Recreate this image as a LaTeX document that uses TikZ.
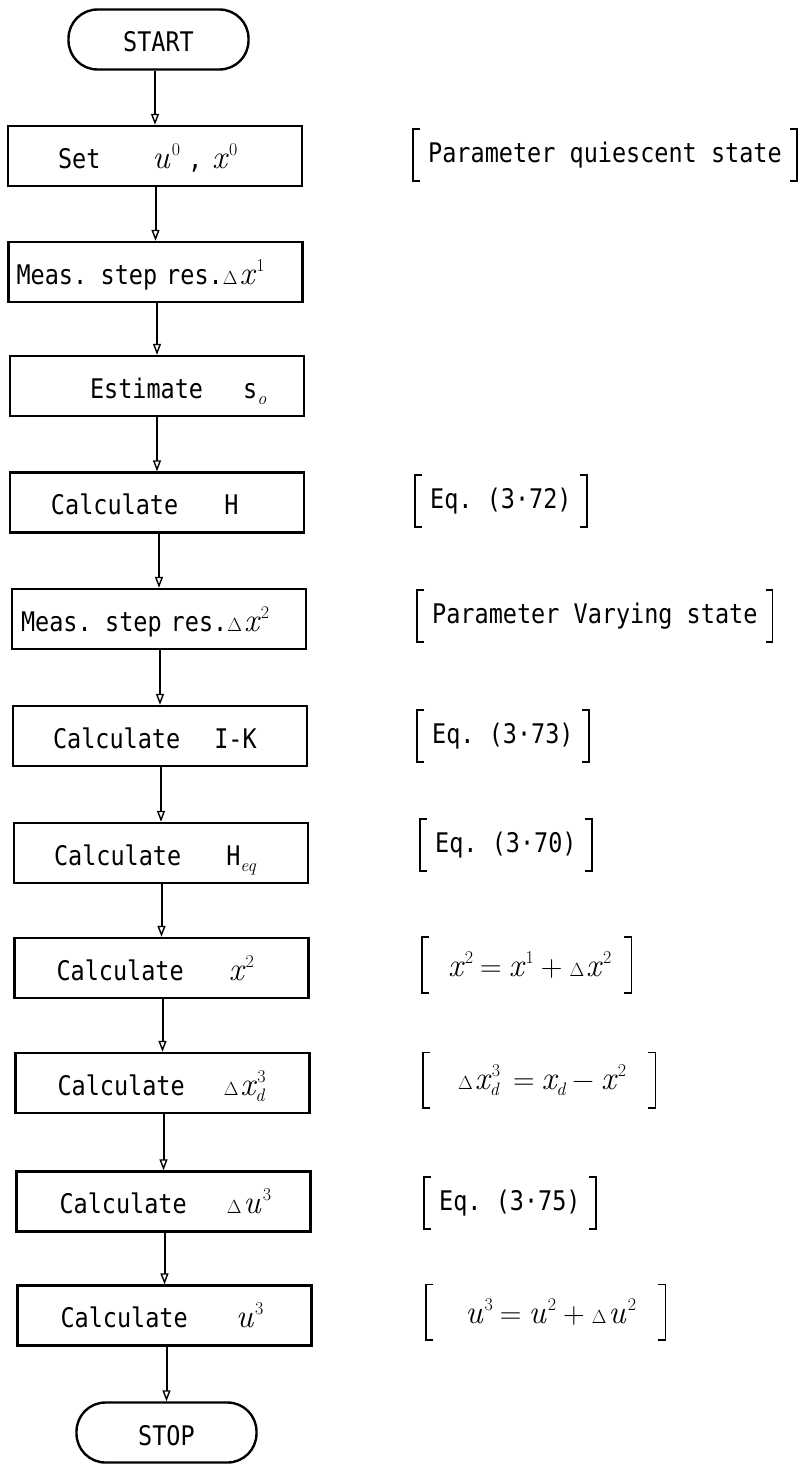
\documentclass[tikz,border=0pt]{standalone}
\usepackage{fontspec}
\setmonofont{DejaVu Sans Mono}[FakeStretch=0.87]
\usetikzlibrary{arrows.meta}

\newcommand\tfont{\fontsize{27}{30}\selectfont\ttfamily}
% variables, indices and operators set as text at fixed sizes
\newcommand\var[1]{{\rmfamily\itshape\fontsize{33}{36}\selectfont #1}}
\newcommand\hi[1]{\hspace{2pt}\raisebox{13pt}{\rmfamily\fontsize{18}{18}\selectfont #1}}
\newcommand\lo[1]{\raisebox{-6pt}{\rmfamily\itshape\fontsize{18}{18}\selectfont #1}}
\newcommand\hilo[2]{\makebox[0pt][l]{\lo{#1}}\hi{#2}}
\newcommand\dl{{\rmfamily\fontsize{19}{20}\selectfont Δ}\hspace{2pt}}
\newcommand\op[1]{\hspace{7pt}{\rmfamily\fontsize{30}{30}\selectfont #1}\hspace{7pt}}

\tikzset{
  stepbox/.style={draw, line width=2.4pt, rectangle, minimum height=60pt,
    text width=282pt, inner xsep=6pt, inner ysep=2pt, align=left,
    text height=27pt, text depth=3pt, font=\tfont},
  term/.style={draw, line width=2.4pt, rectangle, rounded corners=29pt,
    minimum width=180pt, minimum height=60pt, inner ysep=2pt,
    text height=27pt, text depth=2pt, font=\tfont},
  note/.style={anchor=west, inner xsep=15pt, minimum height=52pt, font=\tfont},
  brk/.style={line width=1.6pt},
  arr/.style={line width=2pt, -{Triangle[open,length=11pt,width=8pt,line width=1.4pt]}}
}

\begin{document}
\begin{tikzpicture}[x=1pt, y=-1pt]
\useasboundingbox (0,0) rectangle (809,1464);

% main chain of the flowchart
\node[term]    (start)  at (158.5,39.5) {START};
\node[stepbox] (set)    at (155,156)    {\hspace*{44pt}Set\hspace{52pt}\var{u}\hi{0}\hspace{8pt},\hspace{10pt}\var{x}\hi{0}};
\node[stepbox] (meas1)  at (155.5,272)  {\hspace*{2pt}Meas. step res.\dl\var{x}\hi{1}};
\node[stepbox] (est)    at (157,386)    {\hspace*{74pt}Estimate\hspace{40pt}s\lo{o}};
\node[stepbox] (calcH)  at (157,502.5)  {\hspace*{35pt}Calculate\hspace{46pt}H};
\node[stepbox] (meas2)  at (159,619)    {\hspace*{3pt}Meas. step res.\dl\var{x}\hi{2}};
\node[stepbox] (calcIK) at (160,736)    {\hspace*{34pt}Calculate\hspace{34pt}I-K};
\node[stepbox] (calcHq) at (161,853)    {\hspace*{34pt}Calculate\hspace{45pt}H\lo{eq}};
\node[stepbox] (calcx)  at (161.5,968)  {\hspace*{36pt}Calculate\hspace{45pt}\var{x}\hi{2}};
\node[stepbox] (calcdx) at (162.5,1083) {\hspace*{36pt}Calculate\hspace{39pt}\dl\var{x}\hilo{d}{3}};
\node[stepbox] (calcdu) at (163.5,1201.5){\hspace*{37pt}Calculate\hspace{40pt}\dl\var{u}\hi{3}};
\node[stepbox] (calcu)  at (164.5,1315.5){\hspace*{37pt}Calculate\hspace{48pt}\var{u}\hi{3}};
\node[term]    (stop)   at (166.5,1432.5){STOP};

% connectors
\foreach \a/\b in {start/set, set/meas1, meas1/est, est/calcH, calcH/meas2,
                   meas2/calcIK, calcIK/calcHq, calcHq/calcx, calcx/calcdx,
                   calcdx/calcdu, calcdu/calcu, calcu/stop}
  \draw[arr] (\b.north |- \a.south) -- (\b.north);

% bracketed notes
\node[note] (n1) at (413,155)  {Parameter quiescent state};
\node[note] (n2) at (415,501)  {Eq. (3·72)};
\node[note] (n3) at (417,616)  {Parameter Varying state};
\node[note] (n4) at (417,736)  {Eq. (3·73)};
\node[note] (n5) at (420,845)  {Eq. (3·70)};
\node[note, minimum width=209pt, minimum height=56pt] (n6) at (422,965)
  {\hspace*{6pt}\var{x}\hi{2}\op{=}\var{x}\hi{1}\op{+}\dl\var{x}\hi{2}};
\node[note, minimum width=232pt, minimum height=55pt] (n7) at (423,1080)
  {\hspace*{6pt}\dl\var{x}\hilo{d}{3}\hspace{6pt}\op{=}\var{x}\lo{d}\op{−}\var{x}\hi{2}};
\node[note] (n8) at (424,1203) {Eq. (3·75)};
\node[note, minimum width=239pt, minimum height=55pt] (n9) at (426,1312)
  {\hspace*{10pt}\var{u}\hi{3}\op{=}\var{u}\hi{2}\op{+}\dl\var{u}\hi{2}};

\foreach \n in {n1,n2,n3,n4,n5,n6,n7,n8,n9} {
  \draw[brk] ([xshift=7pt]\n.north west) -- (\n.north west) -- (\n.south west) -- ([xshift=7pt]\n.south west);
  \draw[brk] ([xshift=-7pt]\n.north east) -- (\n.north east) -- (\n.south east) -- ([xshift=-7pt]\n.south east);
}
\end{tikzpicture}
\end{document}
